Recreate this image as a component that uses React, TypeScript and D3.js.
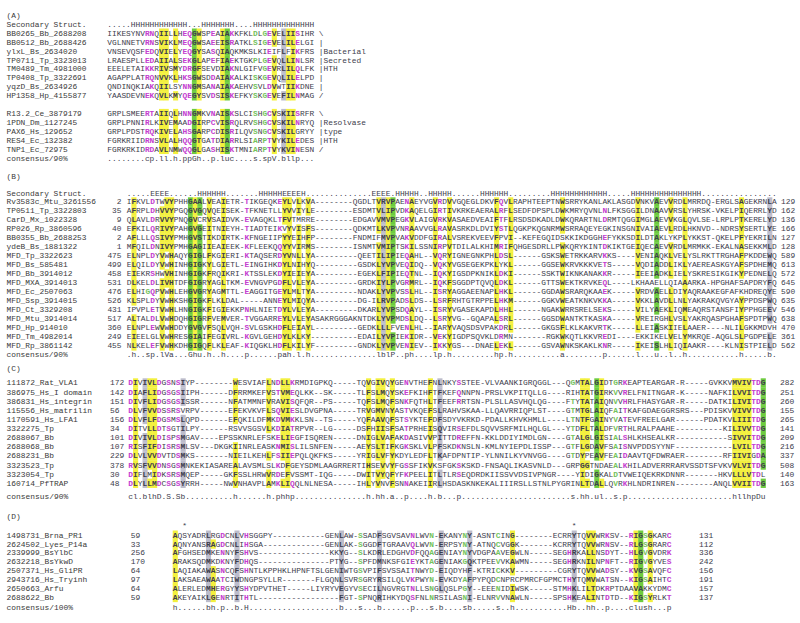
import React from "react";
import * as d3 from "d3";

// ---------------- DATA ----------------
const panelTitles = ["(A)", "(B)", "(C)", "(D)"];

// Panel A
const aNames = [
  "BB0265_Bb_2688208", "BB0512_Bb_2688426", "ylxL_Bs_2634020", "TP0711_Tp_3323013",
  "TM0489_Tm_4981000", "TP0408_Tp_3322691", "yqzD_Bs_2634926", "HP1358_Hp_4155877",
  "R13.2_Ce_3879179", "1PDN_Dm_1127245", "PAX6_Hs_129652", "RES4_Ec_132382", "TNP1_Ec_72975",
];
const aSeqs = [
  "IIKESYNVRNQIILLHEQGWSPEAIAKKFKLDLGEVELIISIHR",
  "VGLNNETVRNSVIKLMEQGWSAEEISRATKLSIGEVELILELGI",
  "VNSEVQSFEDQVIELYEQGYSASQIAQKMKSLKIEIFLFIKFRS",
  "LRAESPLLEDAIIALSEKGLAPEFIAEKTGKPLGEVQLLINLSR",
  "EEELETAIKKRIVSMYDRGFSEVDIAKNLGIFVGEVRLILQLFK",
  "AGAPPLATRQNVVKLHKSGWSDDAIAKALKISKGEVQLILELPD",
  "QNDINQKIAKQIILSYNNGMSANAIAKAEHVSVLDVWTIIKDNE",
  "YAASDEVNEKQVLKMYQEGYSVDSISKEFKYSKGEVEFILNMAG",
  "GRPLSMEERTAIIQLHNNGMKVNAISKSLCISHGCVSKIISRFR",
  "GRPLPNNIRLKIVEMAADGIRPCVISRQLRVSHGCVSKILNRYQ",
  "GRPLPDSTRQKIVELAHSGARPCDISRILQVSNGCVSKILGRYY",
  "FGRKRIIDRNSVLALHQQGTGATDIARRLSIARPTVYKILEDES",
  "FGRKRKIDRDAVLNMWQQGLGASHISKTMNIARPTVYKVINESN",
];
const aNotes = ["\\", "|", "|Bacterial", "|Secreted", "|HTH", "|", "|", "/", "\\", "|Resolvase", "|type", "|HTH", "/"];
const aSS = ".....HHHHHHHHHHHH...HHHHHHH....HHHHHHHHHHHHH";
const aCons = "........cp.ll.h.ppGh..p.luc....s.spV.bllp...";

// Panel B
const bNames = [
  "Rv3583c_Mtu_3261556", "TP0511_Tp_3322803", "CarD_Mx_1022328", "RP026_Rp_3860596",
  "BB0355_Bb_2688253", "ydeB_Bs_1881322", "MFD_Tp_3322623", "MFD_Bs_585481", "MFD_Bb_3914012",
  "MFD_MXA_3914013", "MFD_Ec_2507063", "MFD_Ssp_3914015", "MFD_Ct_3329208", "MFD_Mtu_3914014",
  "MFD_Hp_914010", "MFD_Tm_4982014", "MFD_Rp_3861142",
];
const bStarts = ["2", "35", "9", "40", "2", "1", "475", "499", "458", "531", "476", "526", "431", "517", "360", "249", "455"];
const bEnds = ["129", "162", "136", "166", "127", "128", "589", "613", "572", "645", "590", "635", "546", "638", "470", "361", "562"];
const bSeqs = [
  "IFKVLDTWVYPHHGAALVEAIETR-TIKGEQKEYLVLKVA--------QGDLTVRVPA" + "ENAEYVGVRDVVGQEGLDKVFQVLRAPHTEEPTNWSRRYKANLAKLASGDVNKVAEVVRDLMRRDQ-ERGLSAGEKRNLA",
  "AFRPLDHVVYPGQGVGQVQEISEK-TFKNETLLYVVIYLE--------ESDMTVLIPV" + "DKAQELGIRTIVKRKEAERALRFLSEDFDPSPLDWKMRYQVNLNLFKSGGILDNAAVVRSLYHRSK-VKELPIQERRLYD",
  "QLAVLDRVVYPNQGVCRVSAIDVK-EVAGQKLTFVTMRRE--------EDGAVVMVPE" + "GKVLAIGVRKVASAEDVEAIFTFLRSDSDKADLDWKQRARTNLDRMTQGGIMGLAEVVKGLQVLSE-LRPLPTKERELYD",
  "EFKILQRIVYPAHGVGEITNIEYH-TIADTEIKVYVISFS--------QDKMTLKVPV" + "NRAAVVGLRAVASRKDLDVIYSTLQGKPKQGNRMWSRRAQEYEGKINSGNIVAIAEVLRDLHKNVD--NDRSYSERTLYE",
  "AFLLLQSIVYPMHGVSTIKDIRTK-KFNGEIIPYYEIHFP--------FNDMIFMVPV" + "AKVDDFGIRALVSREKVEEVFPVI--KEFEGQIDSKKIKDGGHEFYKKSDILDTAKLYKPLYKKST-QKELPFYEKRILN",
  "MFQILDNIVYPMHGAGIIEAIEEK-KFLEEKQQYYVIRMS--------ISNMTVMIPT" + "SKILSSNIRPVTDILALKHIMRIFQHGESDRLLPWKQRYKINTDKIKTGEIQECAEVVRDLMRMKK-EKALNASEKKMLD",
  "ELNPLDYVWHAQYGIGLFKGIERI-KTAQSERDYVNLLYA---------QEETILIPI" + "EQAHL--VQRYIGNEGNKPHLDSL------GSKSWETRKKARVKKS----VENIAQKLVELYSLRKTTRGHAFPKDDEWQ",
  "ELQILDYVWHINHGIGKYLGIETL-EINGIHKDYLNIHYQ---------GSDKLYVPV" + "EQIDQ--VQKYVGSEGEKPKLYKL------GGSEWKRVKKKVETS-----VQDIADDLIKLYAEREASKGYAFSPDHEMQ",
  "EIEKRSHWVHINHGIGKFRQIKRI-KTSSLEKDYIEIEYA---------EGEKLFIPI" + "EQTNL--IQKYIGSDPKNIKLDKI------SSKTWIKNKANAKKR-----IEEIADKLIELYSKRESIKGIKYPEDNELQ",
  "DLKELDLIVHTDFGIGRYAGLTKM-EVNGVPGDFLVLEYA---------GRDKIYLPV" + "GRMRL--IQKFSGGDPTQVQLDKL------GTTSWEKTKRVKEQL----LKHAAELLQIAAARKA-HPGHAFSAPDRYFQ",
  "ELHIGQPVWHLEHGVGRYAGMTTL-EAGGITGEYLMLTYA---------NDAKLYVPV" + "SSLHL--ISRYAGGAEENAPLHKL------GGDAWSRARQKAAEK-----VRDVAELLDIYAQRAAKEGFAFKHDREQYE",
  "KLSPLDYVWHKSHGIGKFLKLDAL-----ANNEYLMIQYA---------DG-ILRVPA" + "DSLDS--LSRFRHTGTRPPELHKM------GGKVWEATKNKVKKA-----VKKLAVDLLNLYAKRAKQVGYAYPPDSPWQ",
  "IPVPLETVWHLHNGIGKFIGIEKKPNHLNIETDYLVLEYA---------DKARLYVPS" + "DQAYL--ISRYVGASEKAPDLHHL------NGAKWRRSRELSEKS-----VILYAEKLIQMEAQRSTANSFIYPPHGEEV",
  "ALTALDLVWHDQHGIGRFVEMVER-TVGGARREYLVLEYASAKRGGGAKNTDKLYVPM" + "DSLDQ--LSRYVG--GQAPALSRL------GGSDWANTKTKASKA-----VREIRGHLVSLYAKRQASPGHAFSPDTPWQ",
  "ELNPLEWVWHDDYGVGVFSQLVQH-SVLGSKHDFLEIAYL---------GEDKLLLFV" + "ENLHL--IARYVAQSDSVPAKDRL------GKGSFLKLKAKVRTK-----LLEIASKIIELAAER----NLILGKKMDVH",
  "EIEELGLVWHRESGIAIFEGIVRL-KGVLGEHDYLKLKY----------EDAILYVPI" + "EKIDR--VEKYIGDPSQVKLDRMN-------RGKWKQTLKKVREDI----EKKIKELVELYMKRQE-AQGLSLPGDPELE",
  "NLKELEFVWHKDHGIGQFLKLEAF-KIQGKLHDFLKILYF---------GNDKLYVPV" + "ENIEV--IKKYGS---DNAELEKL------GSVAWNKSKAKLKNR-----IKEISLHLIQIAAKR----KLNISTPIELD",
];
const bSS = [
  ".....", "EEEE", "......", "HHHHHH", ".......", "HHHHH", "EEEE", "H", "..............",
  "EEEE", ".", "HHHHH", "..", "HHHHH", "......", "HHHHHH", ".........", "HHHHHHHHHHHH",
  ".....", "HHHHHHHHHHHHHHH", "................",
].join("");
const bCons = [
  ".h..sp.lVa...", "Ghu.h..h", "....", "p", "......", "pah.l.h", "..............",
  "lblP.", ".ph", "....", "lp.h", ".........", "hp.h", "..........", "a", "........",
  "p", "......", "l", "...", "u", "..", "l", "..", "h", "...........", "h", ".....", "b", ".",
].join("");

// Panel C
const cNames = [
  "111872_Rat_VLA1", "386975_Hs_I domain", "386831_Hs_integrin", "115556_Hs_matrilin",
  "1170591_Hs_LFA1", "3322275_Tp", "2688067_Bb", "2688068_Bb", "2688231_Bb",
  "3323523_Tp", "3323054_Tp", "160714_PfTRAP",
];
const cStarts = ["172", "142", "151", "56", "156", "34", "101", "107", "229", "378", "30", "48"];
const cEnds = ["282", "251", "260", "155", "265", "141", "209", "216", "337", "508", "140", "163"];
const cSeqs = [
  "DIVIVLDGSNSIYP--------WESVIAFLNDLLKRMDIGPKQ-----TQVGIVQY" + "GENVTHEFNLNKYSSTEE-VLVAANKIGRQGGL---QGMTALGIDTGRKEAPTEARGAR-R-----GVKKVMVIVTDG",
  "DIAFLIDGSGSIIPH------DFRRMKEFVSTVMEQLKK--SK-----TLFSLMQY" + "SKEFKIHFTFKEFQNNPN-PRSLVKPITQLLG----RIHTATGIRKVVRELFNITNGAR-K-----NAFKILVVITDG",
  "DIVFLIDGSGSISSR------NFATMMNFVRAVISQFQR--PS-----TQFSLMQF" + "SNKFQTHLTFEEFRRTSN-PLSLLASVHQLQG----FTYTATAIQNVVHRLFHASYGAR-R-----DATKILIVITDG",
  "DLVFVVDSSRSVRPV------EFEKVKVFLSQVIESLDVGPNA-----TRVGMVNY" + "ASTVKQEFSLRAHVSKAA-LLQAVRRIQPLST----GTMTGLAIQFAITKAFGDAEGGRSRS---PDISKVVIVVTDG",
  "DLVFLFDGSMSLQPD------EFQKILDFMKDVMKKLSN--TS-----YQFAAVQF" + "STSYKTEFDFSDYVKRKD-PDALLKHVKHMLL----LTNTFGAINYVATEVFREELGAR------PDATKVLIIITDG",
  "DITVLLDTSGTILPY------RSVVSGSVLKDIATRPVR--LG-----DSFHIISF" + "SATPRHEISQVIRSEFDLSQVVSRFMILHQLGL---YTDFLTALDFVRTHLRALPAAHE----------KILIVVTDG",
  "DIVIVLDISPSMGAV----EPSSKNRLEFSKELIEGFISQREN-----DNIGLVAF" + "AKDASIVVPITTDREFFN-KKLDDIYIMDLGN----GTALGLGISIALSHLKHSEALKR-----------SIVVITDG",
  "RISFIFDISRSMLSV---DKGKIINRLEASKNMISLILSNFEN-----AEYSLTIF" + "KGKSKLVLPFSKDKNSLN-KMLNYIEPDLISSP---GTFLGDAVFSAISNVPDDSYYNF------------LVILTDG",
  "DLVLVVDVTDSMKS-------NIEILKEHLFSIIEPQLQKFKS-----YRIGLVFY" + "KDYLEDFLTKAFDPNTIP-YLNNILKYVNVGG----GTDYPEAVFEAIDAAVTQFDWRAER--------RFIIVIGDA",
  "RVSFVVDNSGSMNKEKIASAREALAVSMLSLKDFGEYSDMLAAGRRERTIHSEVVY" + "FGSSFIKVKSFGKSKSKD-FNSAQLIKASVNLD---GRPGGTNDAEALKHILADVERRRARVSSDTSFVKVVLVITDG",
  "DIFLMIDKSRSMQEP-----GKFSSLHRWVRDEFVSSMT-IQG-----DWITVYQF" + "YFKPEELITLTLRSEQDRDKIISSVVDSIVPNGR----YIDIGKALDTVWEIQEKRKDNNR-------HKVLLLVTDL",
  "DLYLLMDCSGSYRRH-----NWVNHAVPLAMKLIQQLNLNESA-----IHLYVNVF" + "SNNAKEIIRLHSDASKNKEKALIIIRSLLSTNLPYGRINLTDALLQVRKHLNDRINREN--------ANQLVVIITDG",
];
const cCons = [
  "cl.blhD.S.Sb", "..........", "h", "......", "h.phhp", "...............",
  "h.hh.a..p", "....", "h.b...p", ".......................", "s.hh.ul..s.p",
  "......................", "hllhpDu",
].join("");

// Panel D
const dNames = [
  "1498731_Brna_PR1", "2624502_Lyes_P14a", "2339999_BsYlbC", "2632218_BsYkwD",
  "2507371_Hs_GliPR", "2943716_Hs_Tryinh", "2650663_Arfu", "2688622_Bb",
];
const dStarts = ["59", "33", "256", "170", "64", "97", "64", "59"];
const dEnds = ["131", "112", "336", "242", "156", "191", "157", "137"];
const dSeqs = [
  "AQSYADRLRGDCNLVHSGGPY-----------GENLAW-SSADFSGV" + "SAVNLWVN-EKANYNY-ASNTCING--------ECRRYTQVVWRKSV--RIGSGKARC",
  "AQNYANSRAGDCNLIHSGA-------------GENLAK-SGGDFTGR" + "AAVQLWVN-ERPSYNY-ATNQCVGGK-------KCRRYTQVVWRNSV--RLGSGRARC",
  "AFGHSEDMKENNYFSHVS---------------KKYG--SLKDRLED" + "GHVDFQQAGENIAYNYVDGPAAVEGWLN-----SEGHRKALLNSDYT--HLGVGVDRK",
  "ARAKSQDMKDKNYFDHQS---------------PTYG--SPFDMNKS" + "FGIEYKTAGENIAKGQKTPEEVVKAWMN-----SEGHRKNILNPNFT--RIGVGYVES",
  "LAQIAKAWASNCQFSHNTLKPPHKLHPNFTSLGENIWTGSVPIFSVS" + "SAITNWYD-EIQDYHF-KTRICKKV---------CGRYTQVVWADSY--KVGSAVQFC",
  "LAKSAEAWAATCIWDNGPSYLLR-------FLGQNLSVRSGRYRSIL" + "QLVKPWYN-EVKDYAFPYPQDCNPRCPMRCFGPMCTHYTQMVWATSN--KIGSAIHTC",
  "ALERLEDMHERGYYSHYDPVTHET-----LIYRYVEGYVSECILNGV" + "RGTNLLSNGLQSLPGY--EEENIDIWSK-----STMHKLILTDKRPTDAAVAKKYDMC",
  "AKEYAIKLGENRTITHTL-----------------FGT-SPNQRIHK" + "YDQSFNLNRSILASNI-ELNRVVNAWLN-----SPSHKEALINTDTD--KIGSYRLKT",
];
const dCons = [
  "h......bh.p..b.H", "...................", "b...s...b......p...s.b....sb.....s..h",
  "...........", "Hb..hh..p....clush...p",
].join("");
const dStarCols = [2, 84];

// ---------------- STYLING ----------------
const FONT = "'Liberation Mono', 'DejaVu Sans Mono', monospace";
const TXT = "#3d3d4c";
const LABEL = "#3a3a3a";
const YELLOW = "#f3f03e";
const GREEN = "#6dcb3f";
const GREY = "#bcbccb";
const MAGENTA = "#c43dcf";
const LGREEN = "#74c35c";

const SETS: Record<string, string> = {
  h: "ACFGHILMTVWY", l: "ILV", a: "FHWY", b: "EFHIKLMQRWY", s: "ACDGNPSTV",
  u: "AGS", p: "CDEHKNQRST", c: "DEHKR", "+": "HKR", "-": "DE",
};

type St = { bg?: string; fg?: string } | null;
function styleFor(cons: string | undefined, r: string): St {
  if (!cons || r === "-" || cons === "." || cons === " ") return null;
  if (/[A-Z]/.test(cons)) {
    if (r !== cons) return null;
    if ("GP".includes(cons)) return { bg: GREEN };
    if ("ACFILMVWY".includes(cons)) return { bg: YELLOW };
    return { fg: MAGENTA };
  }
  const set = SETS[cons];
  if (!set || !set.includes(r)) return null;
  if (cons === "h" || cons === "l" || cons === "a") return { bg: YELLOW };
  if (cons === "b") return { bg: GREY };
  if (cons === "u") return { bg: GREEN };
  if (cons === "s") return { fg: LGREEN };
  return { fg: MAGENTA };
}

const PITCH = 9;

function CharLine({ text, x0, cw, y, fs, color }: { text: string; x0: number; cw: number; y: number; fs: number; color: string }) {
  const xs = d3.scaleLinear().domain([0, 1]).range([x0, x0 + cw]);
  return (
    <g fontSize={fs} fill={color}>
      {text.split("").map((ch, i) => (
        <text key={i} x={xs(i)} y={y + fs * 0.34}>{ch}</text>
      ))}
    </g>
  );
}

function SeqRow({ seq, cons, x0, cw, y, fs }: { seq: string; cons: string; x0: number; cw: number; y: number; fs: number }) {
  const xs = d3.scaleLinear().domain([0, 1]).range([x0, x0 + cw]);
  const cells = seq.split("").map((r, i) => ({ r, i, st: styleFor(cons[i], r) }));
  return (
    <g fontSize={fs}>
      {cells.filter((c) => c.st && c.st.bg).map((c) => (
        <rect key={"b" + c.i} x={xs(c.i)} y={y - PITCH / 2} width={cw + 0.35} height={PITCH + 0.35} fill={c.st!.bg} />
      ))}
      {cells.map((c) => (
        <text key={c.i} x={xs(c.i)} y={y + fs * 0.34}
          fill={c.st && c.st.fg ? c.st.fg : TXT}
          fontWeight={c.st ? 700 : 400}>{c.r}</text>
      ))}
    </g>
  );
}

function Label({ x, y, fs, children, anchor = "start", color = LABEL }: any) {
  return <text x={x} y={y + fs * 0.34} fontSize={fs} fill={color} textAnchor={anchor}>{children}</text>;
}

export default function App() {
  // Panel A geometry
  const A = { x0: 107.3, cw: 4.70, fs: 7.85, labelX: 6.5 };
  const aRowY = (i: number) => (i < 8 ? 33 + i * 8.95 : 113.4 + (i - 8) * 8.95);
  // Panel B geometry
  const B = { x0: 126.7, cw: 4.71, fs: 7.85, labelX: 6.5, numR: 121.5, endX: 781 };
  const bRowY = (i: number) => 201.8 + i * 9.0;
  // Panel C
  const C = { x0: 128.3, cw: 4.755, fs: 7.92, labelX: 6.5, numL: 110, endX: 780 };
  const cRowY = (i: number) => 382.8 + i * 9.12;
  // Panel D
  const D = { x0: 172.7, cw: 4.75, fs: 7.92, labelX: 6.5, numL: 130.7, endX: 699 };
  const dRowY = (i: number) => 535 + i * 8.9;
  const dX = d3.scaleLinear().domain([0, 1]).range([D.x0, D.x0 + D.cw]);

  return (
    <svg width={800} height={623} viewBox="0 0 800 623"
      style={{ position: "absolute", left: 0, top: 0, background: "#fff" }}
      fontFamily={FONT}>
      <rect x={0} y={0} width={800} height={623} fill="#fff" />

      {/* ---------- Panel A ---------- */}
      <Label x={A.labelX} y={15} fs={A.fs}>{panelTitles[0]}</Label>
      <Label x={A.labelX} y={24.3} fs={A.fs}>Secondary Struct.</Label>
      <CharLine text={aSS} x0={A.x0} cw={A.cw} y={24.3} fs={A.fs} color={TXT} />
      {aSeqs.map((s, i) => (
        <g key={"a" + i}>
          <Label x={A.labelX} y={aRowY(i)} fs={A.fs}>{aNames[i]}</Label>
          <SeqRow seq={s} cons={aCons} x0={A.x0} cw={A.cw} y={aRowY(i)} fs={A.fs} />
          <Label x={A.x0 + (aCons.length + 1) * A.cw} y={aRowY(i)} fs={A.fs} color={TXT}>{aNotes[i]}</Label>
        </g>
      ))}
      <Label x={A.labelX} y={158} fs={A.fs}>consensus/90%</Label>
      <CharLine text={aCons} x0={A.x0} cw={A.cw} y={158} fs={A.fs} color={TXT} />

      {/* ---------- Panel B ---------- */}
      <Label x={B.labelX} y={176.7} fs={B.fs}>{panelTitles[1]}</Label>
      <Label x={B.labelX} y={193} fs={B.fs}>Secondary Struct.</Label>
      <CharLine text={bSS} x0={B.x0} cw={B.cw} y={193} fs={B.fs} color={TXT} />
      {bSeqs.map((s, i) => (
        <g key={"b" + i}>
          <Label x={B.labelX} y={bRowY(i)} fs={B.fs}>{bNames[i]}</Label>
          <Label x={B.numR} y={bRowY(i)} fs={B.fs} anchor="end" color={TXT}>{bStarts[i]}</Label>
          <SeqRow seq={s} cons={bCons} x0={B.x0} cw={B.cw} y={bRowY(i)} fs={B.fs} />
          <Label x={B.endX} y={bRowY(i)} fs={B.fs} color={TXT}>{bEnds[i]}</Label>
        </g>
      ))}
      <Label x={B.labelX} y={bRowY(bSeqs.length) - 0.5} fs={B.fs}>consensus/90%</Label>
      <CharLine text={bCons} x0={B.x0} cw={B.cw} y={bRowY(bSeqs.length) - 0.5} fs={B.fs} color={TXT} />

      {/* ---------- Panel C ---------- */}
      <Label x={C.labelX} y={368} fs={C.fs}>{panelTitles[2]}</Label>
      {cSeqs.map((s, i) => (
        <g key={"c" + i}>
          <Label x={C.labelX} y={cRowY(i)} fs={C.fs}>{cNames[i]}</Label>
          <Label x={C.numL} y={cRowY(i)} fs={C.fs} color={TXT}>{cStarts[i]}</Label>
          <SeqRow seq={s} cons={cCons} x0={C.x0} cw={C.cw} y={cRowY(i)} fs={C.fs} />
          <Label x={C.endX} y={cRowY(i)} fs={C.fs} color={TXT}>{cEnds[i]}</Label>
        </g>
      ))}
      <Label x={C.labelX} y={496.7} fs={C.fs}>consensus/90%</Label>
      <CharLine text={cCons} x0={C.x0} cw={C.cw} y={496.7} fs={C.fs} color={TXT} />

      {/* ---------- Panel D ---------- */}
      <Label x={D.labelX} y={516} fs={D.fs}>{panelTitles[3]}</Label>
      {dStarCols.map((c) => (
        <text key={"st" + c} x={dX(c)} y={525 + D.fs * 0.34} fontSize={D.fs} fill={TXT}>*</text>
      ))}
      {dSeqs.map((s, i) => (
        <g key={"d" + i}>
          <Label x={D.labelX} y={dRowY(i)} fs={D.fs}>{dNames[i]}</Label>
          <Label x={D.numL} y={dRowY(i)} fs={D.fs} color={TXT}>{dStarts[i]}</Label>
          <SeqRow seq={s} cons={dCons} x0={D.x0} cw={D.cw} y={dRowY(i)} fs={D.fs} />
          <Label x={D.endX} y={dRowY(i)} fs={D.fs} color={TXT}>{dEnds[i]}</Label>
        </g>
      ))}
      <Label x={D.labelX} y={607.3} fs={D.fs}>consensus/100%</Label>
      <CharLine text={dCons} x0={D.x0} cw={D.cw} y={607.3} fs={D.fs} color={TXT} />
    </svg>
  );
}
